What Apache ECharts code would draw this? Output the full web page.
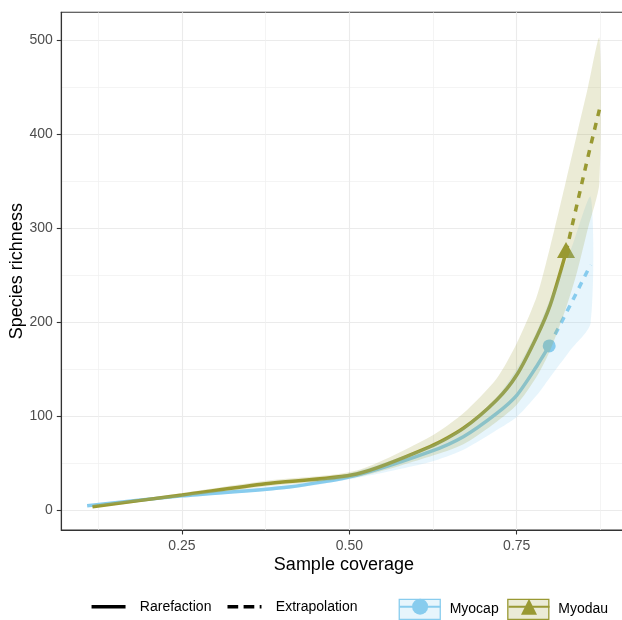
<!DOCTYPE html>
<html><head><meta charset="utf-8">
<script src="https://cdn.jsdelivr.net/npm/echarts@6/dist/echarts.min.js"></script>
<style>html,body{margin:0;padding:0;background:#fff}#c{width:622px;height:620px}</style>
</head><body><div id="c"></div>
<script>
// ---- data ----
const covCap = [0.1083, 0.25, 0.4095, 0.5108, 0.6206, 0.6703, 0.7201, 0.75, 0.7799, 0.7985, 0.83, 0.8604];
const richCap = [4.6, 15, 24.5, 37, 62, 78, 102.8, 122, 153, 174.5, 218, 261];
const lowCap = [3.8, 13.5, 22.5, 34, 51, 64, 85, 99, 122, 140, 170, 199];
const uppCap = [5.4, 16.5, 27, 41, 68, 88, 120, 150, 190, 222, 275, 333];
const methodCap = ['R','R','R','R','R','R','R','R','R','O','E','E'];

const covDau = [0.1163, 0.25, 0.375, 0.5108, 0.6206, 0.6703, 0.7201, 0.75, 0.7799, 0.8, 0.8236, 0.84, 0.8565, 0.8735];
const richDau = [3.5, 16, 28, 38.3, 67.4, 86.9, 117, 143.6, 184.4, 218, 274, 325, 376, 426];
const lowDau = [2.5, 14, 25, 35, 57, 70, 94, 112, 142, 170, 215, 253, 300, 348];
const uppDau = [4.5, 18, 31, 42, 78, 103, 140, 177, 227, 280, 350, 400, 450, 502];
const methodDau = ['R','R','R','R','R','R','R','R','R','R','O','E','E','E'];

const xTicks = [0.25, 0.5, 0.75];
const xMinor = [0.125, 0.375, 0.625, 0.875];
const yTicks = [0, 100, 200, 300, 400, 500];
const yMinor = [50, 150, 250, 350, 450];
const xMin = 0.0697, xMax = 0.914;
const yMin = -21.3, yMax = 529.5;

const seriesNames = ['Myocap', 'Myodau'];
const methodNames = ['Rarefaction', 'Extrapolation'];

// ---- styles ----
const FONT = 'Liberation Sans, Arial, sans-serif';
const CAP = '#88CCEE', DAU = '#999933';
const CAP_F = 'rgba(136,204,238,0.2)', DAU_F = 'rgba(153,153,51,0.2)';
const LW = 3.5;
const SMOOTH = 0.25;

function rareData(cov, val, meth, pointStyle) {
  const out = [];
  for (let i = 0; i < cov.length; i++) {
    if (meth[i] === 'R') out.push([cov[i], val[i]]);
    else if (meth[i] === 'O') out.push(Object.assign({value: [cov[i], val[i]]}, pointStyle));
  }
  return out;
}
function extraData(cov, val, meth) {
  const out = [];
  for (let i = 0; i < cov.length; i++) if (meth[i] !== 'R') out.push([cov[i], val[i]]);
  return out;
}
function ribbon(name, cov, lo, hi, fill) {
  return {
    type: 'custom', name: name, z: 3, silent: true, clip: true,
    data: cov.map((c, i) => [c, lo[i], hi[i]]),
    encode: {x: 0, y: [1, 2]},
    renderItem: function (params, api) {
      if (params.dataIndex !== 0) return null;
      const pts = [];
      for (let i = 0; i < cov.length; i++) pts.push(api.coord([cov[i], hi[i]]));
      for (let i = cov.length - 1; i >= 0; i--) pts.push(api.coord([cov[i], lo[i]]));
      return {type: 'polygon', shape: {points: pts, smooth: SMOOTH}, style: {fill: fill}};
    }
  };
}

const chart = echarts.init(document.getElementById('c'), null, {renderer: 'canvas'});
const tickLabel = {color: '#4D4D4D', fontSize: 14, fontFamily: FONT};
const legendBase = {top: 598.7, padding: 0, selectedMode: false};
const option = {
  animation: false,
  backgroundColor: '#fff',
  grid: {left: 61.3, right: -4.5, top: 12.3, bottom: 90, show: true, borderColor: '#333', borderWidth: 1.1,
         containLabel: false, outerBoundsMode: 'none'},
  xAxis: [
    {type: 'value', min: xMin, max: xMax, position: 'bottom',
     axisLine: {show: true, onZero: false, lineStyle: {color: '#333', width: 1.1}},
     axisTick: {show: true, customValues: xTicks, length: 4.5, lineStyle: {color: '#333', width: 1.1}},
     axisLabel: Object.assign({show: true, customValues: xTicks, margin: 9, formatter: v => Number(v).toFixed(2)}, tickLabel),
     splitLine: {show: true, lineStyle: {color: '#EBEBEB', width: 1.1}},
     name: 'Sample coverage', nameLocation: 'middle', nameGap: 26, nameMoveOverlap: false,
     nameTextStyle: {color: '#000', fontSize: 18, fontFamily: FONT}},
    {type: 'value', min: xMin, max: xMax, position: 'top',
     axisLine: {show: false}, axisTick: {show: false, customValues: xMinor},
     axisLabel: {show: false, customValues: xMinor},
     splitLine: {show: true, lineStyle: {color: '#EFEFEF', width: 0.7}}}
  ],
  yAxis: [
    {type: 'value', min: yMin, max: yMax, position: 'left',
     axisLine: {show: true, onZero: false, lineStyle: {color: '#333', width: 1.1}},
     axisTick: {show: true, customValues: yTicks, length: 4.5, lineStyle: {color: '#333', width: 1.1}},
     axisLabel: Object.assign({show: true, customValues: yTicks, margin: 8.5}, tickLabel),
     splitLine: {show: true, lineStyle: {color: '#EBEBEB', width: 1.1}},
     name: 'Species richness', nameLocation: 'middle', nameGap: 35, nameMoveOverlap: false,
     nameTextStyle: {color: '#000', fontSize: 18, fontFamily: FONT}},
    {type: 'value', min: yMin, max: yMax, position: 'right',
     axisLine: {show: false}, axisTick: {show: false, customValues: yMinor},
     axisLabel: {show: false, customValues: yMinor},
     splitLine: {show: true, lineStyle: {color: '#EFEFEF', width: 0.7}}}
  ],
  legend: [
    Object.assign({}, legendBase, {left: 89.8, itemWidth: 34, itemHeight: 20, itemGap: 14.3,
     textStyle: {fontSize: 14, fontFamily: FONT, color: '#000', padding: [0, 0, 0, 9.3]},
     data: [
       {name: methodNames[0], itemStyle: {color: 'rgba(0,0,0,0)', borderColor: 'rgba(0,0,0,0)'},
        lineStyle: {color: '#000', width: LW, type: 'solid'}},
       {name: methodNames[1], itemStyle: {color: 'rgba(0,0,0,0)', borderColor: 'rgba(0,0,0,0)'},
        lineStyle: {color: '#000', width: LW, type: [10.7, 5.4]}}
     ]}),
    Object.assign({}, legendBase, {left: 398.6, itemWidth: 41, itemHeight: 20, itemGap: 8.5, icon: 'rect',
     textStyle: {fontSize: 14, fontFamily: FONT, color: '#000', padding: [0, 0, 0, 4.4]},
     data: [
       {name: seriesNames[0], itemStyle: {color: CAP_F, borderColor: CAP, borderWidth: 1.3}},
       {name: seriesNames[1], itemStyle: {color: DAU_F, borderColor: DAU, borderWidth: 1.3}}
     ]}),
    Object.assign({}, legendBase, {left: 398.6, itemWidth: 41, itemHeight: 20, itemGap: 8.5, z: 6,
     textStyle: {fontSize: 14, fontFamily: FONT, color: 'rgba(0,0,0,0)', padding: [0, 0, 0, 4.4]},
     data: [seriesNames[0], seriesNames[1]]})
  ],
  series: [
    {type: 'line', name: seriesNames[0], color: CAP, z: 2, symbol: 'circle', symbolSize: 0, showSymbol: true,
     smooth: SMOOTH,
     lineStyle: {width: LW, color: CAP}, itemStyle: {color: CAP},
     data: rareData(covCap, richCap, methodCap, {symbolSize: 13})},
    {type: 'line', name: seriesNames[1], color: DAU, z: 2, symbol: 'triangle', symbolSize: 0, showSymbol: true,
     smooth: SMOOTH,
     lineStyle: {width: LW, color: DAU}, itemStyle: {color: DAU},
     data: rareData(covDau, richDau, methodDau, {symbolSize: [18, 16], symbolOffset: [0, -2.5]})},
    {type: 'line', name: seriesNames[0], color: CAP, z: 2, symbol: 'none',
     lineStyle: {width: LW, color: CAP, type: [6.5, 6.5]},
     data: extraData(covCap, richCap, methodCap)},
    {type: 'line', name: seriesNames[1], color: DAU, z: 2, symbol: 'none',
     lineStyle: {width: LW, color: DAU, type: [7, 7]},
     data: extraData(covDau, richDau, methodDau)},
    ribbon('Myocap band', covCap, lowCap, uppCap, CAP_F),
    ribbon('Myodau band', covDau, lowDau, uppDau, DAU_F),
    {type: 'line', name: methodNames[0], color: '#000', symbol: 'none', lineStyle: {color: '#000', width: LW}, data: []},
    {type: 'line', name: methodNames[1], color: '#000', symbol: 'none', lineStyle: {color: '#000', width: LW, type: 'dashed'}, data: []}
  ]
};
chart.setOption(option);
</script></body></html>
